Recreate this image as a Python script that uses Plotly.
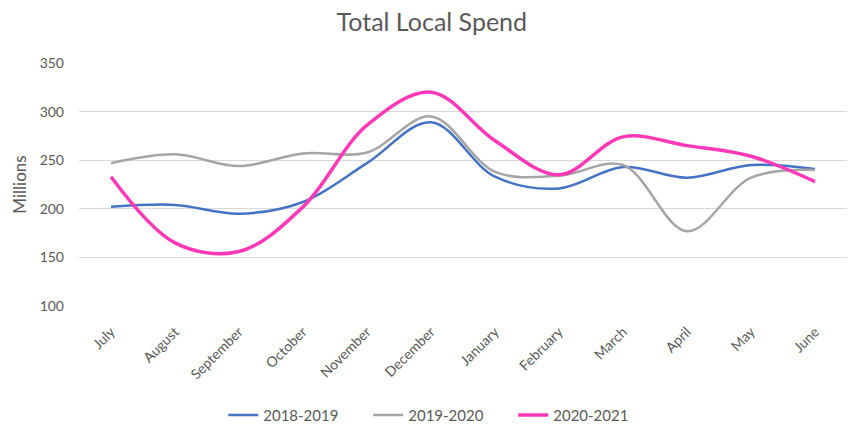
import plotly.graph_objects as go

months = ["July", "August", "September", "October", "November", "December",
          "January", "February", "March", "April", "May", "June"]
s2018 = [202, 204, 195, 207, 247, 289, 233, 221, 243, 232, 245, 241]
s2019 = [247, 256, 244, 257, 258, 295, 238, 234, 245, 177, 232, 240]
s2020 = [233, 165, 156, 202, 286, 320, 270, 235, 274, 265, 254, 228]

series = [
    ("2018-2019", s2018, "#4472C4", 2.5),
    ("2019-2020", s2019, "#A5A5A5", 2.5),
    ("2020-2021", s2020, "#FF38B8", 3.5),
]

fig = go.Figure()
for name, vals, color, w in series:
    fig.add_trace(go.Scatter(
        x=months, y=vals, name=name, mode="lines",
        line=dict(color=color, width=w, shape="spline", smoothing=1.0),
    ))

grey = "#595959"
fig.update_layout(
    width=850, height=426,
    margin=dict(l=79, r=3, t=63, b=120, autoexpand=False),
    paper_bgcolor="white", plot_bgcolor="white",
    font=dict(family="Lato, Open Sans, sans-serif", color=grey, size=13),
    title=dict(text="Total Local Spend", x=0.508, xanchor="center", y=0.948, yanchor="middle",
               font=dict(size=25, color=grey)),
    showlegend=True,
    legend=dict(orientation="h", x=0.471, xanchor="center",
                yref="container", y=0.025, yanchor="middle",
                font=dict(size=15, color=grey), entrywidth=100, entrywidthmode="pixels"),
    xaxis=dict(type="category", range=[-0.5, 11.5], tickangle=-45, showgrid=False,
               showline=False, ticks="", ticklabelstandoff=14, automargin=False,
               tickfont=dict(size=14, color=grey)),
    yaxis=dict(range=[100, 350], dtick=50, showgrid=True, gridcolor="#D9D9D9",
               gridwidth=1, zeroline=False, showline=False, ticks="",
               ticklabelstandoff=14, automargin=False,
               tickfont=dict(size=14, color=grey),
               title=dict(text="Millions", font=dict(size=17, color=grey), standoff=8)),
)

fig.write_html("out.html", config={"displayModeBar": False},
               post_script="document.body.style.margin='0';")
